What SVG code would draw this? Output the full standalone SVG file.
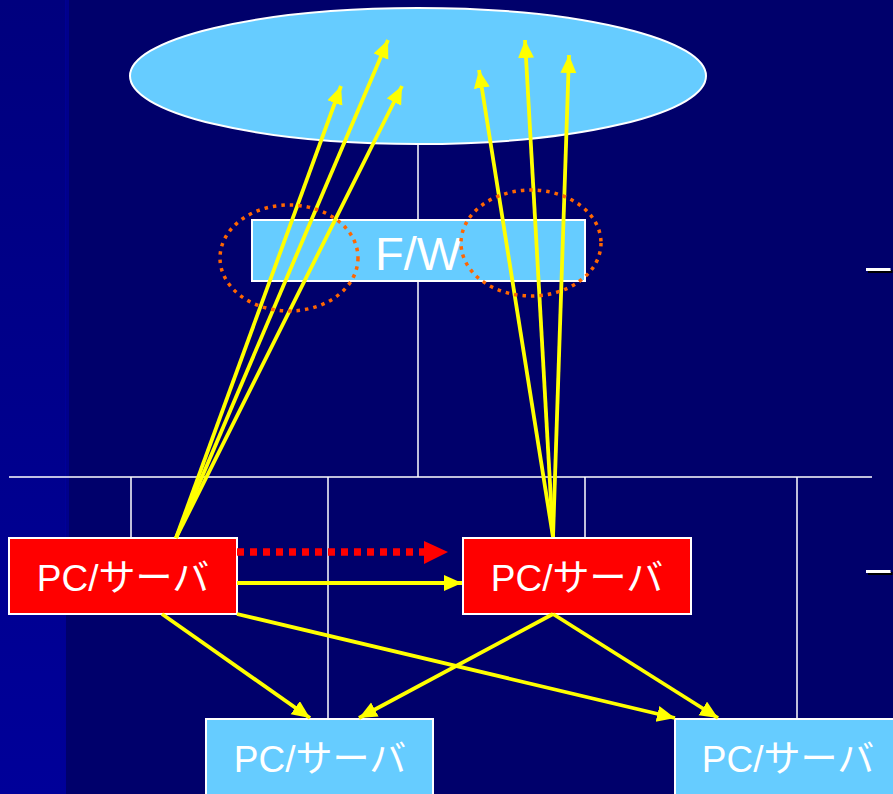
<svg xmlns="http://www.w3.org/2000/svg" width="893" height="794" viewBox="0 0 893 794">
<defs>
<linearGradient id="strip" x1="0" y1="0" x2="0" y2="1">
<stop offset="0" stop-color="#00007E"/>
<stop offset="1" stop-color="#000099"/>
</linearGradient>
<filter id="shadow" x="-20%" y="-20%" width="150%" height="150%">
<feDropShadow dx="2" dy="2" stdDeviation="0" flood-color="#000000"/>
</filter>
<marker id="ya" markerUnits="userSpaceOnUse" markerWidth="19" markerHeight="17" refX="18" refY="8" orient="auto">
<path d="M0,0 L18,8 L0,16 z" fill="#FFFF00"/>
</marker>
<style>
.bus{stroke:#FFFFFF;stroke-width:1.5;fill:none}
.node{stroke:#FFFFFF;stroke-width:2}
.blue{fill:#66CCFF}
.red{fill:#FF0000}
.lbl{font-family:"Liberation Sans","Noto Sans CJK JP",sans-serif;fill:#FFFFFF;text-anchor:middle}
.y{stroke:#FFFF00;stroke-width:3.8;fill:none;marker-end:url(#ya)}
.dot{stroke:#FF6600;stroke-width:3.5;fill:none;stroke-dasharray:3.5 5}
.dash{font-family:"Liberation Sans",sans-serif;font-size:44px;fill:#FFFFFF;filter:url(#shadow)}
</style>
</defs>
<rect x="0" y="0" width="893" height="794" fill="#00006B"/>
<rect x="0" y="0" width="66" height="794" fill="url(#strip)"/>
<rect x="65" y="0" width="4" height="560" fill="#0000A0" opacity="0.6"/>

<g id="bus-lines">
<line class="bus" x1="418" y1="144" x2="418" y2="477"/>
<line class="bus" x1="9" y1="477" x2="872" y2="477"/>
<line class="bus" x1="131" y1="477" x2="131" y2="538"/>
<line class="bus" x1="328" y1="477" x2="328" y2="719"/>
<line class="bus" x1="585" y1="477" x2="585" y2="538"/>
<line class="bus" x1="797" y1="477" x2="797" y2="719"/>
</g>

<g id="internet">
<ellipse class="node blue" cx="418" cy="76" rx="288" ry="68"/>
</g>

<g id="fw">
<rect class="node blue" x="252" y="220" width="333" height="61"/>
<text class="lbl" x="418" y="270" font-size="47">F/W</text>
</g>

<g id="pc-red-left">
<rect class="node red" x="9" y="538" width="228" height="76"/>
<text class="lbl" x="123" y="591" font-size="37">PC/サーバ</text>
</g>

<g id="pc-red-right">
<rect class="node red" x="463" y="538" width="228" height="76"/>
<text class="lbl" x="577" y="591" font-size="37">PC/サーバ</text>
</g>

<g id="pc-blue-left">
<rect class="node blue" x="206" y="719" width="227" height="90"/>
<text class="lbl" x="320" y="772" font-size="37">PC/サーバ</text>
</g>

<g id="pc-blue-right">
<rect class="node blue" x="675" y="719" width="227" height="90"/>
<text class="lbl" x="788" y="772" font-size="37">PC/サーバ</text>
</g>

<g id="connectors">
<line class="y" x1="176" y1="538" x2="341" y2="86"/>
<line class="y" x1="176" y1="538" x2="388" y2="40"/>
<line class="y" x1="176" y1="538" x2="402" y2="86"/>
<line class="y" x1="553" y1="537" x2="479" y2="70"/>
<line class="y" x1="553" y1="537" x2="525" y2="40"/>
<line class="y" x1="553" y1="537" x2="569" y2="55"/>
<line x1="237" y1="552" x2="425" y2="552" stroke="#FF0000" stroke-width="7.5" stroke-dasharray="7 6"/>
<path d="M424,541 L448,552 L424,564 z" fill="#FF0000"/>
<line class="y" x1="237" y1="583" x2="462" y2="583"/>
<line class="y" x1="162" y1="614" x2="310" y2="718"/>
<line class="y" x1="237" y1="614" x2="675" y2="718"/>
<line class="y" x1="553" y1="614" x2="359" y2="718"/>
<line class="y" x1="553" y1="614" x2="718" y2="718"/>
</g>

<g id="highlights">
<ellipse class="dot" cx="289" cy="258" rx="69" ry="53"/>
<ellipse class="dot" cx="531" cy="243" rx="70" ry="53"/>
</g>

<g id="bullets">
<text class="dash" x="866" y="281">–</text>
<text class="dash" x="866" y="583">–</text>
</g>
</svg>
